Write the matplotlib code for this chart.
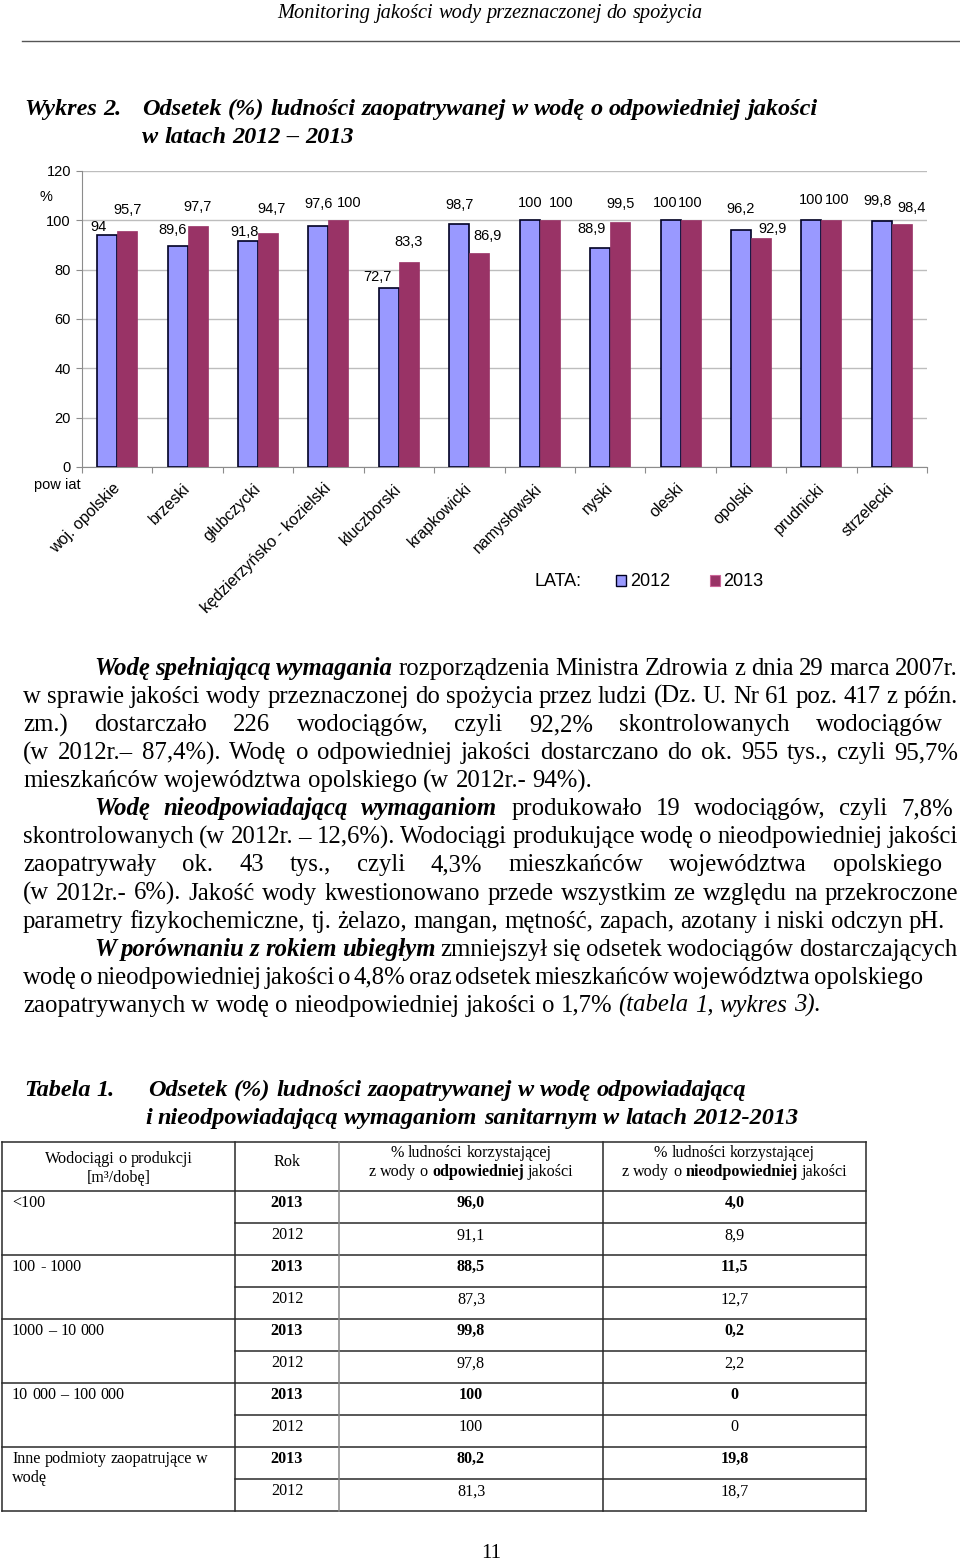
import numpy as np
import matplotlib
matplotlib.use('Agg')
import matplotlib.pyplot as plt
from matplotlib.lines import Line2D
from matplotlib.patches import Patch
from matplotlib.transforms import ScaledTranslation

W, H = 960, 1561
SERIF = 'Liberation Serif'
SANS = 'Liberation Sans'

# chart data (Wykres 2)
powiaty = ['woj. opolskie', 'brzeski', 'głubczycki', 'kędzierzyńsko - kozielski',
           'kluczborski', 'krapkowicki', 'namysłowski', 'nyski', 'oleski',
           'opolski', 'prudnicki', 'strzelecki']
v2012 = [94, 89.6, 91.8, 97.6, 72.7, 98.7, 100, 88.9, 100, 96.2, 100, 99.8]
v2013 = [95.7, 97.7, 94.7, 100, 83.3, 86.9, 100, 99.5, 100, 92.9, 100, 98.4]
years = ['2012', '2013']

# label nudges in px (Excel moved some labels to avoid collisions)
dx12 = [-9, -5, -3, 0, -11, 0, 0, -9, -5, 0, 0, -4]
dy12 = [8, 16, 9, 22, 11, 19, 17, 19, 17, 21, 20, 20]
dx13 = [0, 0, 4, 11, 0, 8, 11, 0, 0, 12, 6, 10]
dy13 = [21, 19, 24, 17, 20, 17, 17, 18, 17, 9, 20, 16]

# table data (Tabela 1)
tab_groups = ['<100', '100 - 1000', '1000 – 10 000', '10 000 – 100 000',
              'Inne podmioty zaopatrujące w|wodę']
good_2013 = ['96,0', '88,5', '99,8', '100', '80,2']
good_2012 = ['91,1', '87,3', '97,8', '100', '81,3']
bad_2013 = ['4,0', '11,5', '0,2', '0', '19,8']
bad_2012 = ['8,9', '12,7', '2,2', '0', '18,7']

# paragraph text, one entry per printed line: (segments, left, right, justify)
para = [
    ([('Wodę spełniającą wymagania', 'bi'), ('rozporządzenia Ministra Zdrowia z dnia 29 marca 2007r.', 'n')], 94, 958, True),
    ([('w sprawie jakości wody przeznaczonej do spożycia przez ludzi (Dz. U. Nr 61 poz. 417 z późn.', 'n')], 23, 958, True),
    ([('zm.) dostarczało 226 wodociągów, czyli 92,2% skontrolowanych wodociągów', 'n')], 23, 943, True),
    ([('(w 2012r.– 87,4%). Wodę o odpowiedniej jakości dostarczano do ok. 955 tys., czyli 95,7%', 'n')], 23, 958, True),
    ([('mieszkańców województwa opolskiego (w 2012r.- 94%).', 'n')], 23, None, False),
    ([('Wodę nieodpowiadającą wymaganiom', 'bi'), ('produkowało 19 wodociągów, czyli 7,8%', 'n')], 94, 953, True),
    ([('skontrolowanych (w 2012r. – 12,6%). Wodociągi produkujące wodę o nieodpowiedniej jakości', 'n')], 23, 958, True),
    ([('zaopatrywały ok. 43 tys., czyli 4,3% mieszkańców województwa opolskiego', 'n')], 23, 942, True),
    ([('(w 2012r.- 6%). Jakość wody kwestionowano przede wszystkim ze względu na przekroczone', 'n')], 23, 958, True),
    ([('parametry fizykochemiczne, tj. żelazo, mangan, mętność, zapach, azotany i niski odczyn pH.', 'n')], 23, None, False),
    ([('W porównaniu z rokiem ubiegłym', 'bi'), ('zmniejszył się odsetek wodociągów dostarczających', 'n')], 94, 957, True),
    ([('wodę o nieodpowiedniej jakości o 4,8% oraz odsetek mieszkańców województwa opolskiego', 'n')], 23, 923, True),
    ([('zaopatrywanych w wodę o nieodpowiedniej jakości o 1,7%', 'n'), ('(tabela 1, wykres 3).', 'i')], 23, None, False),
]

fig = plt.figure(figsize=(9.6, 15.61), dpi=100)
fig.patch.set_facecolor('white')
r = fig.canvas.get_renderer()

STY = {'n': {}, 'b': {'weight': 'bold'}, 'i': {'style': 'italic'},
       'bi': {'weight': 'bold', 'style': 'italic'}}


def fx(x):
    return x / W


def fy(y):
    return 1 - y / H


def em(size):
    return size * fig.dpi / 72


def width(txt, size, st='n', family=SERIF):
    t = fig.text(0, 0, txt, fontsize=size, family=family, **STY[st])
    w = t.get_window_extent(r).width
    t.remove()
    return w


def fit(txt, target, st='n', family=SERIF):
    return 20 * target / width(txt, 20, st, family)


def put(segs, x, yc, size, align='left', x1=None, family=SERIF):
    # place words one by one so that lines can be justified
    words = []
    for txt, st in segs:
        for w in txt.split():
            t = fig.text(0, 0, w, fontsize=size, family=family, va='baseline',
                         ha='left', **STY[st])
            words.append((t, t.get_window_extent(r).width))
    sp = 0.25 * em(size)
    total = sum(w for _, w in words)
    n = len(words)
    if align == 'justify' and n > 1:
        gap = (x1 - x - total) / (n - 1)
        start = x
    else:
        gap = sp
        full = total + sp * (n - 1)
        start = {'left': x, 'center': x - full / 2, 'right': x - full}[align]
    cx = start
    yb = yc + 0.32 * em(size)
    for t, w in words:
        t.set_position((fx(cx), fy(yb)))
        cx += w + gap


def hline(x0, x1, y, **kw):
    fig.add_artist(Line2D([fx(x0), fx(x1)], [fy(y), fy(y)], transform=fig.transFigure, **kw))


def vline(x, y0, y1, **kw):
    fig.add_artist(Line2D([fx(x), fx(x)], [fy(y0), fy(y1)], transform=fig.transFigure, **kw))


# page header
hs = fit('Monitoring jakości wody przeznaczonej do spożycia', 424, 'i')
put([('Monitoring jakości wody przeznaczonej do spożycia', 'i')], 490, 11, hs, 'center')
hline(22, 960, 41, color='#555555', lw=1.0)

# chart title
ts = fit('Odsetek (%) ludności zaopatrywanej w wodę o odpowiedniej jakości', 676, 'bi')
put([('Wykres 2.', 'bi')], 24, 107, ts)
put([('Odsetek (%) ludności zaopatrywanej w wodę o odpowiedniej jakości', 'bi')], 142, 107, ts)
put([('w latach 2012 – 2013', 'bi')], 142, 135, ts)

# chart
FS = 10.5
ax = fig.add_axes([fx(82), fy(467), 845 / W, 296 / H])
x = np.arange(len(powiaty))
bw = 0.284
c12, c13 = '#9999FF', '#993366'
ax.bar(x - bw / 2, v2012, bw, color=c12, edgecolor='#000022', lw=1.2, zorder=3)
ax.bar(x + bw / 2, v2013, bw, color=c13, edgecolor=c13, lw=0.5, zorder=3)


def lab(v):
    return ('%g' % v).replace('.', ',')


for xi, v, dx, dy in zip(x, v2012, dx12, dy12):
    ax.annotate(lab(v), (xi - bw / 2, v), xytext=(dx * 0.72, dy * 0.72),
                textcoords='offset points', ha='center', va='center',
                fontsize=FS, family=SANS)
for xi, v, dx, dy in zip(x, v2013, dx13, dy13):
    ax.annotate(lab(v), (xi + bw / 2, v), xytext=(dx * 0.72, dy * 0.72),
                textcoords='offset points', ha='center', va='center',
                fontsize=FS, family=SANS)

ax.set_xlim(-0.5, len(powiaty) - 0.5)
ax.set_ylim(0, 120)
ax.set_yticks(np.arange(0, 121, 20))
ax.yaxis.grid(True, color='#bdbdbd', lw=1.0, zorder=0)
for s in ['top', 'right']:
    ax.spines[s].set_visible(False)
for s in ['left', 'bottom']:
    ax.spines[s].set_color('#8c8c8c')
ax.set_xticks(np.arange(-0.5, len(powiaty), 1))
ax.set_xticklabels([])
ax.set_xticks(x, minor=True)
ax.set_xticklabels(powiaty, minor=True, rotation=45, ha='right',
                   rotation_mode='anchor', fontsize=11.5, family=SANS)
ax.tick_params(axis='x', which='major', length=4, color='#8c8c8c')
ax.tick_params(axis='x', which='minor', length=0, pad=10)
ax.tick_params(axis='y', length=4, color='#8c8c8c', labelsize=FS, pad=4)
for t in ax.get_yticklabels():
    t.set_family(SANS)
off = ScaledTranslation(-5 / 100, 0, fig.dpi_scale_trans)
for t in ax.xaxis.get_minorticklabels():
    t.set_transform(t.get_transform() + off)

fig.text(fx(46), fy(197), '%', fontsize=FS, family=SANS, ha='center', va='center')
fig.text(fx(57), fy(485), 'pow iat', fontsize=FS, family=SANS, ha='center', va='center')

# legend
fig.text(fx(535), fy(581), 'LATA:', fontsize=13, family=SANS, ha='left', va='center')
handles = [Patch(facecolor=c12, edgecolor='#000022', lw=1.0),
           Patch(facecolor=c13, edgecolor='#cc6699', lw=0.8)]
fig.legend(handles, years, ncol=2, loc='center left', bbox_to_anchor=(fx(600), fy(582)),
           frameon=False, prop={'family': SANS, 'size': 13}, handlelength=0.55,
           handleheight=0.55, handletextpad=0.2, columnspacing=2.2)

# paragraph
ps = fit(para[9][0][0][0], 923)
for i, (segs, x0, x1, just) in enumerate(para):
    yc = 667 + 28.08 * i
    put(segs, x0, yc, ps, 'justify' if just else 'left', x1)

# table title
put([('Tabela  1.', 'bi')], 24, 1088, ts)
put([('Odsetek (%) ludności zaopatrywanej w wodę odpowiadającą', 'bi')], 148, 1088, ts)
put([('i nieodpowiadającą wymaganiom sanitarnym w latach 2012-2013', 'bi')], 145, 1116, ts)

# table
cols = [2, 235, 339, 603, 866]
top, head_bot, row_h = 1142, 1191, 32
bottom = head_bot + row_h * 2 * len(tab_groups)
lc = '#2a2a2a'
hline(cols[0], cols[-1], top, color=lc, lw=1.1)
for k in range(len(tab_groups) + 1):
    hline(cols[0], cols[-1], head_bot + 2 * row_h * k, color=lc, lw=1.1)
for k in range(len(tab_groups)):
    hline(cols[1], cols[-1], head_bot + 2 * row_h * k + row_h, color=lc, lw=1.1)
for i, c in enumerate(cols):
    vline(c, top, bottom, color='#888888' if i == 2 else lc, lw=1.1)

tsz = fit('Wodociągi o produkcji', 147)
cx = [(cols[i] + cols[i + 1]) / 2 for i in range(4)]
put([('Wodociągi o produkcji', 'n')], cx[0], 1158, tsz, 'center')
put([('[m³/dobę]', 'n')], cx[0], 1177, tsz, 'center')
put([('Rok', 'n')], cx[1], 1161, tsz, 'center')
put([('% ludności korzystającej', 'n')], cx[2], 1152, tsz, 'center')
put([('z wody o', 'n'), ('odpowiedniej', 'b'), ('jakości', 'n')], cx[2], 1171, tsz, 'center')
put([('% ludności korzystającej', 'n')], cx[3], 1152, tsz, 'center')
put([('z wody o', 'n'), ('nieodpowiedniej', 'b'), ('jakości', 'n')], cx[3], 1171, tsz, 'center')

for k, g in enumerate(tab_groups):
    y13 = head_bot + 2 * row_h * k + 11
    y12 = y13 + row_h
    for j, part in enumerate(g.split('|')):
        put([(part, 'n')], 12, y13 + 19 * j, tsz)
    put([('2013', 'b')], cx[1], y13, tsz, 'center')
    put([(good_2013[k], 'b')], cx[2], y13, tsz, 'center')
    put([(bad_2013[k], 'b')], cx[3], y13, tsz, 'center')
    put([('2012', 'n')], cx[1], y12, tsz, 'center')
    put([(good_2012[k], 'n')], cx[2], y12, tsz, 'center')
    put([(bad_2012[k], 'n')], cx[3], y12, tsz, 'center')

# page number
put([('11', 'n')], 491, 1551, 15, 'center')

fig.savefig('out.png', dpi=100, facecolor='white')
